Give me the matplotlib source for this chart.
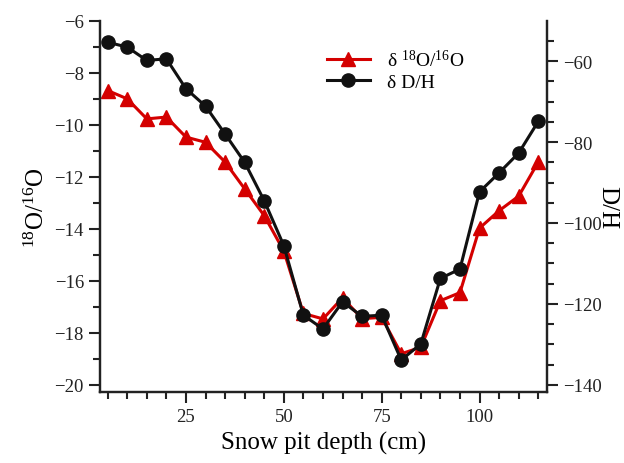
import numpy as np
import matplotlib.pyplot as plt

plt.rcParams['font.family'] = ['Liberation Serif', 'DejaVu Serif']
plt.rcParams['mathtext.fontset'] = 'custom'
plt.rcParams['mathtext.rm'] = 'Liberation Serif'
plt.rcParams['mathtext.it'] = 'Liberation Serif:italic'

# profondeur de la fosse (cm)
depth = [5, 10, 15, 20, 25, 30, 35, 40, 45, 50, 55, 60,
         65, 70, 75, 80, 85, 90, 95, 100, 105, 110, 115]
# delta 18O/16O (axe gauche)
d18o = [-8.68, -9.0, -9.77, -9.7, -10.47, -10.67, -11.43, -12.46, -13.49, -14.85, -17.25, -17.46,
        -16.65, -17.45, -17.4, -18.8, -18.55, -16.76, -16.45, -13.97, -13.3, -12.74, -11.43]
# delta D/H (axe droit)
dDH = [-55.3, -56.5, -59.8, -59.4, -66.8, -71.1, -78.0, -85.0, -94.5, -105.6, -122.8, -126.2,
       -119.5, -123.1, -122.8, -133.9, -129.9, -113.7, -111.4, -92.3, -87.6, -82.7, -74.9]

red = '#d40000'
blk = '#111111'

fig = plt.figure(figsize=(6.24, 4.64), dpi=100)
ax = fig.add_axes([0.160, 0.153, 0.717, 0.800])
ax2 = ax.twinx()

l1, = ax.plot(depth, d18o, color=red, lw=2.2, marker='^', ms=10, label='δ $^{18}$O/$^{16}$O')
l2, = ax2.plot(depth, dDH, color=blk, lw=2.2, marker='o', ms=9.5, label='δ D/H')

ax.set_xlim(3, 117.3)
ax.set_ylim(-20.27, -6)
ax2.set_ylim(-141.8, -50)

ax.set_xticks([25, 50, 75, 100])
ax.set_xticks(np.arange(5, 120, 5), minor=True)
ax.set_yticks(np.arange(-20, -5, 2))
ax.set_yticks(np.arange(-19, -6, 2), minor=True)
ax2.set_yticks([-60, -80, -100, -120, -140])
ax2.set_yticks(np.arange(-135, -50, 5), minor=True)

for a in (ax, ax2):
    a.spines['top'].set_visible(False)
    for s in a.spines.values():
        s.set_linewidth(1.6)
        s.set_color('#222222')
    a.tick_params(which='major', length=8, width=1.5, labelsize=13.5, colors='#222222', direction='out')
    a.tick_params(which='minor', length=5, width=1.5, colors='#222222', direction='out')
ax.tick_params(axis='y', right=False)

ax.set_xlabel('Snow pit depth (cm)', fontsize=18, labelpad=4)
ax.set_ylabel('$^{18}$O/$^{16}$O', fontsize=18, labelpad=4)
ax2.set_ylabel('D/H', fontsize=18, rotation=-90, labelpad=12)

leg = ax2.legend(handles=[l1, l2], loc='upper left', bbox_to_anchor=(0.49, 0.945),
                 frameon=False, fontsize=14, handlelength=2.2, handletextpad=0.9,
                 labelspacing=0.15, borderaxespad=0)

fig.savefig('out.png', dpi=100)
